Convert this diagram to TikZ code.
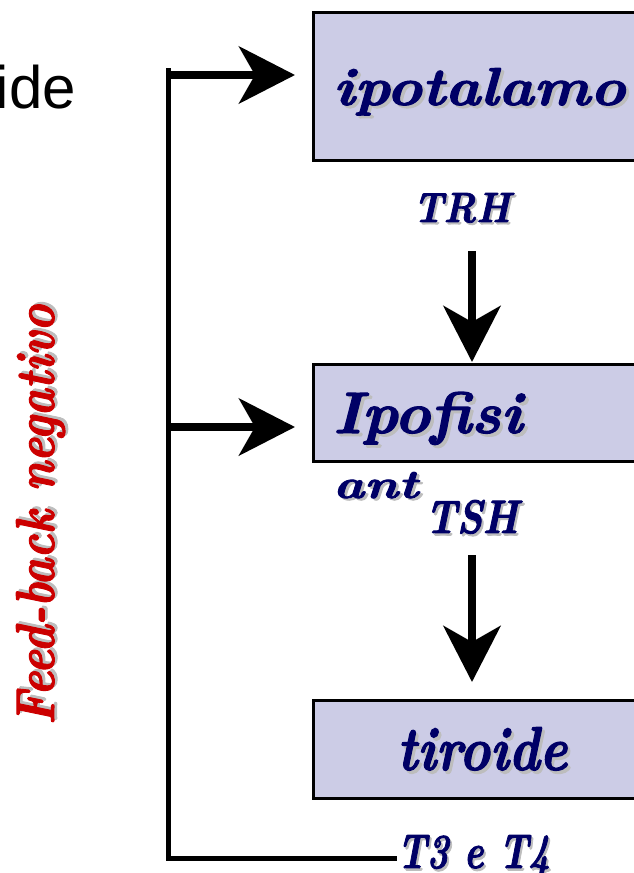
\documentclass[tikz,border=0pt]{standalone}
\usepackage{fontspec}
\usepackage{graphicx}
\newfontfamily\helv{Liberation Sans}
\newfontfamily\heavy[BoldItalicFeatures={FakeBold=2}]{Latin Modern Roman}
\usetikzlibrary{arrows.meta}
\definecolor{navy}{HTML}{000066}
\definecolor{boxfill}{HTML}{CCCCE6}
\definecolor{fbred}{HTML}{CC0000}
\definecolor{shade}{HTML}{BDBDBD}
\newcommand\shtext[2]{\rlap{\kern0.05em\raisebox{-0.05em}{\textcolor{shade}{#2}}}\textcolor{#1}{#2}}
\begin{document}
\begin{tikzpicture}[x=1pt,y=-1pt,
  box/.style={draw=black, line width=2.5pt, fill=boxfill, rectangle, inner sep=0pt},
  txt/.style={inner sep=0pt, font=\heavy\bfseries\itshape},
  arr/.style={line width=8pt, -{Stealth[length=56pt,width=57pt,inset=16pt]}},
  fbline/.style={line width=5pt, line cap=butt}]
\useasboundingbox (0,0) rectangle (634,873);
\clip (0,0) rectangle (634,873);
% boxes
\node[box, anchor=north west, minimum width=360pt, minimum height=148pt] (hyp) at (312,11) {};
\node[box, anchor=north west, minimum width=360pt, minimum height=97pt] (pit) at (312,363) {};
\node[box, anchor=north west, minimum width=360pt, minimum height=98pt] (thy) at (312,699) {};
% texts
\node[txt, anchor=base west] (hypt) at (333,105) {\resizebox{292pt}{37pt}{\shtext{navy}{ipotalamo}}};
\node[txt, anchor=base west] (trh) at (413,222) {\resizebox{97pt}{29pt}{\shtext{navy}{TRH}}};
\node[txt, anchor=base west] (pitt) at (333,433) {\resizebox{189pt}{41pt}{\shtext{navy}{Ipofisi}}};
\node[txt, anchor=base west] (ant) at (333,498) {\resizebox{85pt}{26pt}{\shtext{navy}{ant}}};
\node[txt, anchor=base west] (tsh) at (425,533) {\resizebox{93pt}{33pt}{\shtext{navy}{TSH}}};
\node[txt, anchor=base west] (thyt) at (397,770) {\resizebox{170pt}{43pt}{\shtext{navy}{tiroide}}};
\node[txt, anchor=base west] (t3) at (397,868) {\resizebox{153pt}{33pt}{\shtext{navy}{T3 e T4}}};
\node[txt, anchor=base west, rotate=90] (fb) at (54,725) {\resizebox{420pt}{38pt}{\shtext{fbred}{Feed-back negativo}}};
\node[inner sep=0pt, anchor=base east, font=\helv\fontsize{60}{70}\selectfont] (ide) at (76,108) {ide};
% feedback line
\coordinate (fbtop) at (168,68);
\coordinate (fbcorner) at (168,858);
\draw[fbline] (fbtop) -- (fbcorner) -- (fbcorner -| t3.west);
% feedback arrows
\coordinate (a1) at (168,75);
\coordinate (a2) at (168,427);
\draw[arr, shorten >=17pt] (a1) -- (a1 -| hyp.west);
\draw[arr, shorten >=17pt] (a2) -- (a2 -| pit.west);
% down arrows
\coordinate (d1) at (472,251);
\coordinate (d2) at (472,555);
\draw[arr, shorten >=1pt] (d1) -- (d1 |- pit.north);
\draw[arr, shorten >=17pt] (d2) -- (d2 |- thy.north);
\end{tikzpicture}
\end{document}
